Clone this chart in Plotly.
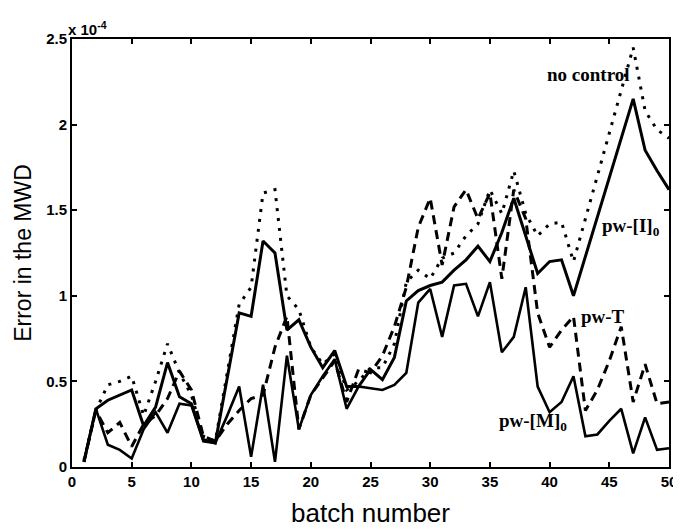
import plotly.graph_objects as go

# batch numbers
batch = list(range(1, 51))

# Error in the MWD, in units of 1e-4
no_control = [0.04, 0.33, 0.48, 0.50, 0.53, 0.30, 0.50, 0.72, 0.55, 0.42,
              0.18, 0.15, 0.55, 0.95, 1.05, 1.60, 1.62, 1.00, 0.92, 0.70,
              0.60, 0.66, 0.45, 0.50, 0.58, 0.58, 0.72, 1.08, 1.15, 1.10,
              1.22, 1.25, 1.35, 1.42, 1.62, 1.48, 1.73, 1.48, 1.35, 1.42,
              1.43, 1.20, 1.45, 1.70, 1.95, 2.20, 2.45, 2.08, 1.97, 1.92]

pw_I0 = [0.03, 0.34, 0.39, 0.42, 0.45, 0.24, 0.35, 0.61, 0.41, 0.37,
         0.16, 0.14, 0.52, 0.90, 0.88, 1.32, 1.25, 0.80, 0.86, 0.70,
         0.58, 0.68, 0.47, 0.47, 0.57, 0.51, 0.64, 0.97, 1.03, 1.06,
         1.08, 1.15, 1.21, 1.29, 1.20, 1.37, 1.57, 1.35, 1.13, 1.20,
         1.21, 1.00, 1.23, 1.46, 1.69, 1.92, 2.15, 1.85, 1.73, 1.62]

pw_T = [0.03, 0.33, 0.20, 0.26, 0.12, 0.25, 0.30, 0.40, 0.56, 0.45,
        0.18, 0.15, 0.25, 0.33, 0.40, 0.42, 0.70, 0.88, 0.22, 0.42,
        0.52, 0.62, 0.38, 0.57, 0.55, 0.65, 0.82, 1.05, 1.40, 1.57,
        1.18, 1.52, 1.62, 1.45, 1.60, 1.10, 1.62, 1.45, 0.90, 0.70,
        0.80, 0.88, 0.33, 0.45, 0.62, 0.82, 0.38, 0.60, 0.37, 0.38]

pw_M0 = [0.03, 0.34, 0.13, 0.10, 0.05, 0.22, 0.32, 0.20, 0.37, 0.36,
         0.15, 0.14, 0.30, 0.47, 0.06, 0.48, 0.03, 0.65, 0.22, 0.42,
         0.53, 0.63, 0.34, 0.47, 0.46, 0.45, 0.48, 0.55, 0.96, 1.04,
         0.76, 1.06, 1.07, 0.88, 1.08, 0.67, 0.76, 1.05, 0.47, 0.32,
         0.38, 0.53, 0.18, 0.19, 0.27, 0.34, 0.08, 0.29, 0.10, 0.11]

x_ticks = [0, 5, 10, 15, 20, 25, 30, 35, 40, 45, 50]
x_tick_text = ["0", "5", "10", "15", "20", "25", "30", "35", "40", "45", "50"]
y_ticks = [0, 0.5, 1, 1.5, 2, 2.5]
y_tick_text = ["0", "0.5", "1", "1.5", "2", "2.5"]

fig = go.Figure()
fig.add_trace(go.Scatter(x=batch, y=no_control, mode="lines", name="no control",
                         line=dict(color="black", width=3, dash="3px,7px")))
fig.add_trace(go.Scatter(x=batch, y=pw_T, mode="lines", name="pw-T",
                         line=dict(color="black", width=3, dash="9px,6px")))
fig.add_trace(go.Scatter(x=batch, y=pw_M0, mode="lines", name="pw-[M]0",
                         line=dict(color="black", width=2.6)))
fig.add_trace(go.Scatter(x=batch, y=pw_I0, mode="lines", name="pw-[I]0",
                         line=dict(color="black", width=3)))

lab_font = dict(family="Liberation Serif", size=19, color="black")
annots = [
    dict(x=39.6, y=2.29, text="<b>no control</b>"),
    dict(x=44.2, y=1.40, text="<b>pw-[I]<sub>0</sub></b>"),
    dict(x=42.5, y=0.88, text="<b>pw-T</b>"),
    dict(x=35.6, y=0.26, text="<b>pw-[M]<sub>0</sub></b>"),
]
for a in annots:
    fig.add_annotation(x=a["x"], y=a["y"], text=a["text"], xanchor="left",
                       yanchor="middle", showarrow=False, font=lab_font)

fig.add_annotation(xref="paper", yref="paper", x=0.0, y=1.0, xshift=-6, yshift=-1,
                   text="<b>x 10<sup>-4</sup></b>", showarrow=False,
                   xanchor="left", yanchor="bottom",
                   font=dict(family="Liberation Sans", size=15, color="black"))

axis_common = dict(showgrid=False, zeroline=False, showline=True, linecolor="black",
                   linewidth=2, mirror="ticks", ticks="inside", ticklen=5,
                   tickwidth=2, tickcolor="black", automargin=False,
                   tickfont=dict(family="Liberation Sans", size=15, color="black"))

# the page body adds an 8px offset, so the figure is 8px smaller than the window
fig.update_layout(
    width=673, height=521,
    margin=dict(l=64, r=12, t=31, b=62),
    paper_bgcolor="white", plot_bgcolor="white",
    showlegend=False,
    xaxis=dict(range=[0, 50], tickvals=x_ticks,
               ticktext=["<b>%s</b>" % t for t in x_tick_text],
               title=dict(text="batch number", standoff=15,
                          font=dict(family="Liberation Sans", size=26, color="black")),
               **axis_common),
    yaxis=dict(range=[0, 2.5], tickvals=y_ticks,
               ticktext=["<b>%s</b>" % t for t in y_tick_text],
               title=dict(text="Error in the MWD", standoff=8,
                          font=dict(family="Liberation Sans", size=23, color="black")),
               **axis_common),
)

fig.write_html("out.html")
